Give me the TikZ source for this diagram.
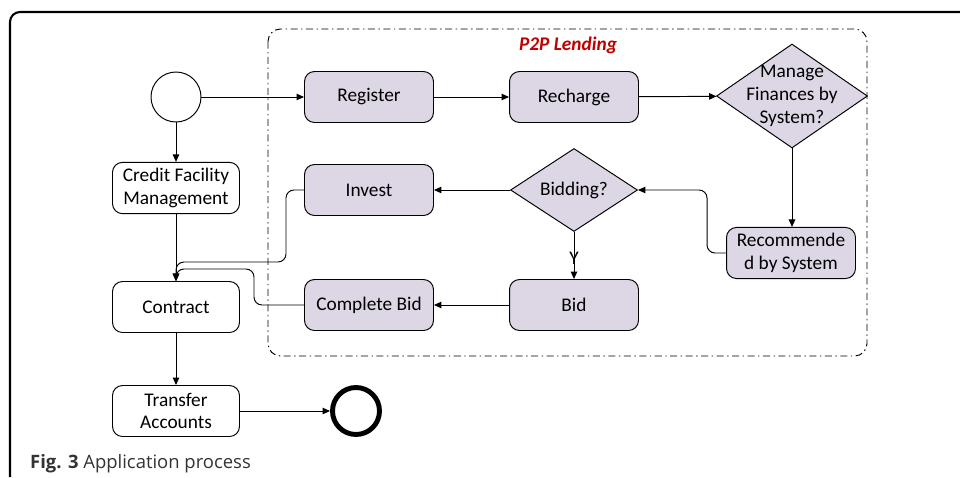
\documentclass[tikz,border=0pt]{standalone}
\usepackage{fontspec}
\setmainfont{Carlito}
\newfontfamily\capfont{Open Sans}
\usetikzlibrary{shapes.geometric,arrows.meta}

\definecolor{lav}{RGB}{221,215,229}
\definecolor{p2pred}{RGB}{192,0,0}

\tikzset{
	task/.style={draw,rounded corners=0.2cm,minimum width=2.58cm,minimum height=1.02cm,align=center,font=\fontsize{11}{13}\selectfont,line width=0.55pt},
	subtask/.style={task,fill=lav},
	decide/.style={draw,diamond,fill=lav,inner sep=0pt,line width=0.55pt},
	flow/.style={->,line width=0.55pt},
}

\begin{document}
\begin{tikzpicture}[x=0.02cm,y=-0.02cm,>={Triangle[length=1.5mm,width=1.3mm]}]
	\useasboundingbox (0,0) rectangle (960,477);
	\draw [line width=1.2pt,rounded corners=0.2cm] (10,477) -- (10,12) -- (960,12);
	\draw [dash pattern=on 4pt off 2pt on 0.8pt off 2pt,line width=0.55pt,rounded corners=0.25cm] (268,29) rectangle (867,356);
	\node [text=p2pred,font=\bfseries\itshape\fontsize{11}{13}\selectfont] (title) at (568,45) {P2P Lending};
	\node [circle,draw,line width=0.55pt,minimum size=1cm] (start) at (176,97) {};
	\node [task,minimum width=2.54cm] (credit) at (176,188) {Credit Facility\\Management};
	\node [task,minimum width=2.54cm] (contract) at (176,307) {Contract};
	\node [task,minimum width=2.54cm] (transfer) at (176,411) {Transfer\\Accounts};
	\node [circle,draw,line width=2.8pt,minimum size=0.94cm] (finish) at (356,411) {};
	\node [subtask] (register) at (369,97) {Register};
	\node [subtask] (recharge) at (574,97) {Recharge};
	\node [decide,minimum width=3.02cm,minimum height=2.08cm] (manage) at (792,96) {};
	\node [align=center,font=\fontsize{11}{13}\selectfont] (managetext) at (manage) {Manage\\Finances by\\System?};
	\node [subtask] (invest) at (369,190) {Invest};
	\node [decide,minimum width=2.54cm,minimum height=1.66cm] (bidding) at (574,190) {};
	\node [font=\fontsize{11}{13}\selectfont] (biddingtext) at (bidding) {Bidding?};
	\node [subtask] (recommend) at (791,253) {Recommende\\d by System};
	\node [subtask] (bid) at (574,305) {Bid};
	\node [subtask] (complete) at (369,305) {Complete Bid};
	\coordinate (investbend) at (286,262);
	\coordinate (bidbend) at (254,269);
	\draw [flow] (start) -- (register);
	\draw [flow] (start) -- (credit);
	\draw [flow] (register) -- (recharge);
	\draw [flow] (recharge) -- (manage);
	\draw [flow] (manage.south) -- (manage.south |- recommend.north);
	\draw [flow,rounded corners=0.16cm] (recommend.west) -- ++(-19,0) |- (bidding.east);
	\draw [flow] (bidding) -- (invest);
	\draw [flow] (bidding) -- (bid) node[pos=0.55,font=\fontsize{11}{13}\selectfont]{Y};
	\draw [flow] (bid) -- (complete);
	\draw [flow,rounded corners=0.16cm] (invest.west) -| (investbend) -| (contract.north);
	\draw [flow,rounded corners=0.16cm] (complete.west) -| (bidbend) -| (contract.north);
	\draw [flow] (credit) -- (contract);
	\draw [flow] (contract) -- (transfer);
	\draw [flow] (transfer) -- (finish);
	\node [anchor=west,font=\capfont\fontsize{10.5}{12.5}\selectfont,text=black!80] (caption) at (24,464) {\textbf{Fig. 3} Application process};
\end{tikzpicture}
\end{document}
